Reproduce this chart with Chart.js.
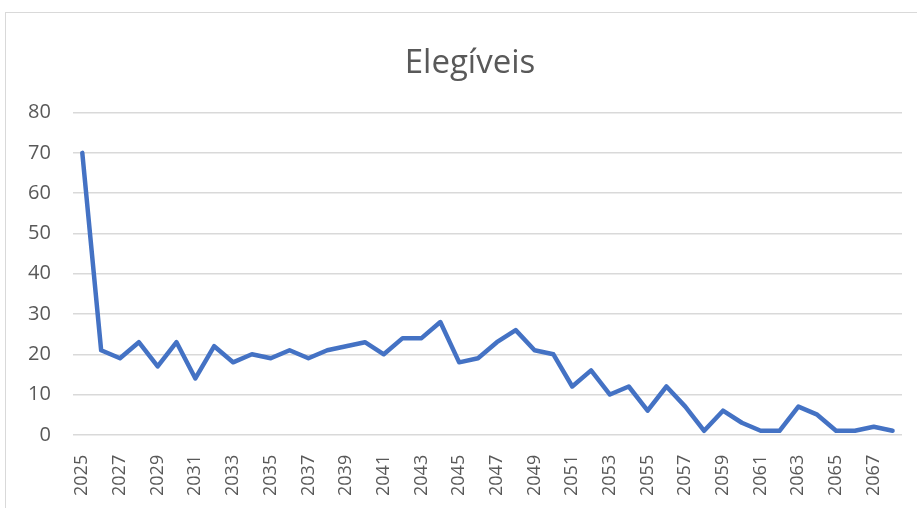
<!DOCTYPE html>
<html>
<head>
<meta charset="utf-8">
<script src="https://cdn.jsdelivr.net/npm/chart.js@4/dist/chart.umd.min.js"></script>
<style>
  html, body { margin: 0; padding: 0; background: #fff; }
  #wrap { position: relative; width: 917px; height: 508px; overflow: hidden; }
  #frame { position: absolute; left: 5px; top: 12px; width: 960px; height: 600px; border: 1px solid #d9d9d9; box-sizing: border-box; }
  #mycanvas { position: absolute; left: 0; top: 0; }
</style>
</head>
<body>
<div id="wrap">
  <div id="frame"></div>
  <canvas id="mycanvas" width="917" height="508"></canvas>
</div>
<script>
// anos e valores
var years = [];
for (var y = 2025; y <= 2068; y++) years.push(String(y));

var elegiveis = [70, 21, 19, 23, 17, 23, 14, 22, 18, 20,
                 19, 21, 19, 21, 22, 23, 20, 24, 24, 28,
                 18, 19, 23, 26, 21, 20, 12, 16, 10, 12,
                 6, 12, 7, 1, 6, 3, 1, 1, 7, 5,
                 1, 1, 2, 1];

var yTicks = [0, 10, 20, 30, 40, 50, 60, 70, 80];

// o titulo no original fica um pouco a direita do centro
var shiftTitle = {
  id: 'shiftTitle',
  afterLayout: function (chart) {
    if (chart.titleBlock) {
      chart.titleBlock.left += 16;
      chart.titleBlock.right += 16;
    }
  }
};

var ctx = document.getElementById('mycanvas');
var lineGraph = new Chart(ctx, {
  type: 'line',
  data: {
    labels: years,
    datasets: [{
      label: 'Elegíveis',
      data: elegiveis,
      borderColor: '#4472C4',
      backgroundColor: '#4472C4',
      borderWidth: 4.5,
      pointRadius: 0,
      tension: 0,
      borderJoinStyle: 'round',
      borderCapStyle: 'round'
    }]
  },
  plugins: [shiftTitle],
  options: {
    responsive: false,
    animation: false,
    layout: { padding: { top: 44, left: 6, right: 15, bottom: 0 } },
    plugins: {
      legend: { display: false },
      tooltip: { enabled: false },
      title: {
        display: true,
        text: 'Elegíveis',
        color: '#595959',
        font: { family: 'Open Sans', size: 33, weight: 'normal' },
        padding: { top: 0, bottom: 29 }
      }
    },
    scales: {
      x: {
        offset: true,
        grid: { display: false },
        border: { display: false },
        afterFit: function (scale) { scale.paddingRight = 0; },
        ticks: {
          autoSkip: false,
          maxRotation: 90,
          minRotation: 90,
          color: '#595959',
          font: { family: 'Open Sans', size: 18 },
          padding: 12,
          callback: function (v, i) { return i % 2 === 0 ? years[i] : ''; }
        }
      },
      y: {
        min: yTicks[0],
        max: yTicks[yTicks.length - 1],
        grid: { color: '#d9d9d9', lineWidth: 1.5, drawTicks: false },
        border: { display: false },
        afterBuildTicks: function (axis) {
          axis.ticks = yTicks.map(function (v) { return { value: v }; });
        },
        ticks: {
          color: '#595959',
          font: { family: 'Open Sans', size: 20 },
          padding: 22
        }
      }
    }
  }
});
</script>
</body>
</html>
